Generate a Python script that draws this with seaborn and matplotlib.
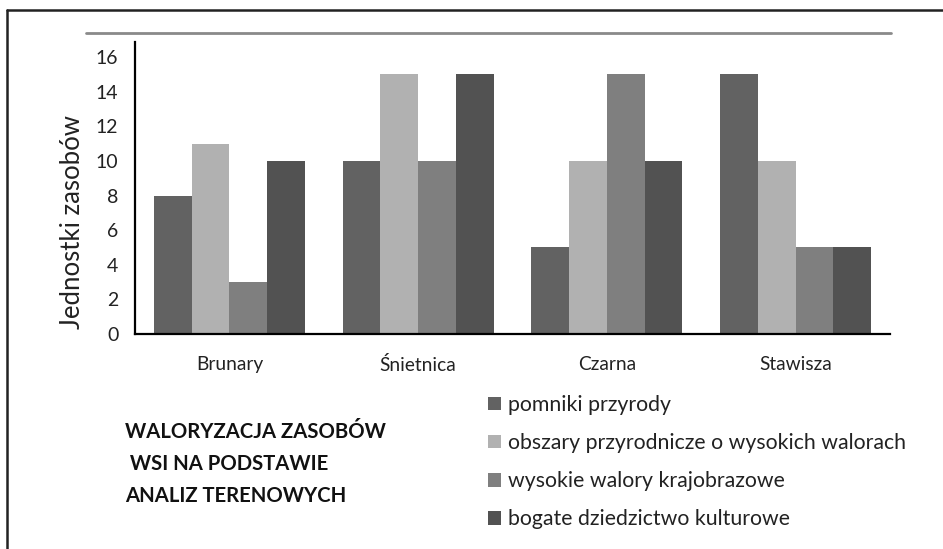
import matplotlib
matplotlib.use("Agg")
import matplotlib.pyplot as plt
from matplotlib.lines import Line2D
import seaborn as sns
import pandas as pd

villages = ["Brunary", "Śnietnica", "Czarna", "Stawisza"]
series = ["pomniki przyrody",
          "obszary przyrodnicze o wysokich walorach",
          "wysokie walory krajobrazowe",
          "bogate dziedzictwo kulturowe"]
pomniki = [8, 10, 5, 15]
obszary = [11, 15, 10, 10]
krajobraz = [3, 10, 15, 5]
dziedzictwo = [10, 15, 10, 5]
colors = ["#626262", "#b1b1b1", "#7f7f7f", "#525252"]
yticks = [0, 2, 4, 6, 8, 10, 12, 14, 16]
ylabel = "Jednostki zasobów"
title_lines = ["WALORYZACJA ZASOBÓW", " WSI NA PODSTAWIE", "ANALIZ TERENOWYCH"]

rows = []
for s, vals in zip(series, [pomniki, obszary, krajobraz, dziedzictwo]):
    for v, val in zip(villages, vals):
        rows.append({"wieś": v, "seria": s, "wartość": val})
df = pd.DataFrame(rows)

sns.set_theme(style="white")
plt.rcParams["font.family"] = ["Lato", "DejaVu Sans"]

fig = plt.figure(figsize=(9.43, 5.49), dpi=100)
W, H = 943, 549
ax = fig.add_axes([135 / W, 1 - 334 / H, (890 - 135) / W, (334 - 42) / H])

sns.barplot(data=df, x="wieś", y="wartość", hue="seria", order=villages,
            hue_order=series, palette=colors, saturation=1, width=0.8,
            gap=0, ax=ax, edgecolor="none", linewidth=0, legend=True)

ax.set_xlim(-0.5, 3.5)
ax.set_ylim(0, 16.87)
ax.set_yticks(yticks)
ax.set_yticklabels([str(t) for t in yticks])
ax.set_xlabel("")
ax.set_ylabel("")
for sp in ["top", "right"]:
    ax.spines[sp].set_visible(False)
for sp in ["left", "bottom"]:
    ax.spines[sp].set_color("black")
    ax.spines[sp].set_linewidth(1.6)
ax.tick_params(axis="y", length=0, pad=12, labelsize=14, labelcolor="#222222")
ax.tick_params(axis="x", length=0, pad=16, labelsize=13.8, labelcolor="#222222")

handles, labels = ax.get_legend_handles_labels()
ax.get_legend().remove()
fig.legend(handles, labels, loc="upper left",
           bbox_to_anchor=(488 / W, 1 - 395 / H), frameon=False,
           fontsize=15.3, handlelength=0.62, handleheight=0.62,
           handletextpad=0.3, labelspacing=0.85, borderpad=0,
           borderaxespad=0, labelcolor="#222222")

fig.text(72 / W, 1 - 222 / H, ylabel, rotation=90, ha="center", va="center",
         fontsize=18.5, fontweight="normal", color="#222222")

fig.text(125 / W, 1 - 464 / H, "\n".join(title_lines), ha="left", va="center",
         fontsize=14.6, fontweight="bold", color="#111111", linespacing=1.72)

# decorative lines: frame (left & top) and grey rule above plot
fig.add_artist(Line2D([7 / W, 7 / W], [0, 1 - 10 / H], color="#222222",
                      lw=1.8, transform=fig.transFigure))
fig.add_artist(Line2D([7 / W, 1], [1 - 10 / H, 1 - 10 / H], color="#222222",
                      lw=1.8, transform=fig.transFigure))
fig.add_artist(Line2D([86 / W, 891 / W], [1 - 33 / H, 1 - 33 / H],
                      color="#8a8a8a", lw=2, transform=fig.transFigure))

fig.savefig("out.png", dpi=100)
